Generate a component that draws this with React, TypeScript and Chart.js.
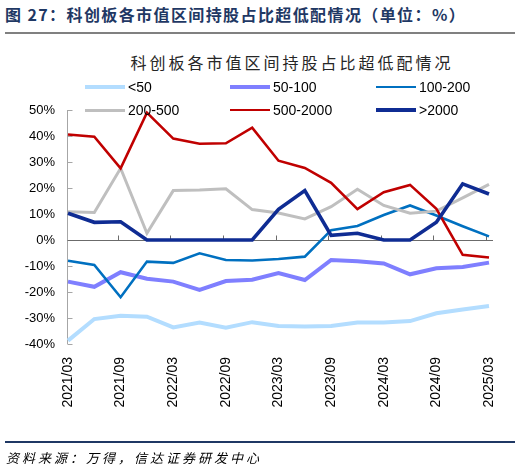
import React, { useEffect, useRef } from 'react';
import { Chart, registerables } from 'chart.js';

Chart.register(...registerables);

const categories = [
  '2021/03', '2021/06', '2021/09', '2021/12',
  '2022/03', '2022/06', '2022/09', '2022/12',
  '2023/03', '2023/06', '2023/09', '2023/12',
  '2024/03', '2024/06', '2024/09', '2024/12',
  '2025/03',
];
const tickLabels = ['2021/03', '2021/09', '2022/03', '2022/09', '2023/03', '2023/09', '2024/03', '2024/09', '2025/03'];
const yTicks = [-40, -30, -20, -10, 0, 10, 20, 30, 40, 50];

const seriesNames = ['<50', '50-100', '100-200', '200-500', '500-2000', '>2000'];
const lt50 = [-38.7, -30.4, -29.1, -29.5, -33.6, -31.7, -33.7, -31.6, -33.1, -33.3, -33.1, -31.7, -31.7, -31.2, -28.2, -26.7, -25.4];
const s50to100 = [-16.0, -18.0, -12.4, -14.9, -16.0, -19.2, -15.8, -15.3, -12.7, -15.4, -7.7, -8.2, -9.0, -13.2, -10.9, -10.4, -8.7];
const s100to200 = [-8.0, -9.6, -22.0, -8.3, -8.8, -5.1, -7.7, -7.9, -7.3, -6.4, 3.8, 5.4, 9.6, 13.3, 9.4, 5.3, 1.4];
const s200to500 = [10.9, 10.6, 27.6, 2.6, 19.0, 19.2, 19.7, 11.7, 10.4, 8.1, 12.8, 19.5, 13.3, 10.3, 11.1, 16.2, 21.4];
const s500to2000 = [40.6, 39.7, 27.6, 49.0, 39.0, 37.0, 37.2, 43.2, 30.5, 27.7, 22.0, 11.9, 18.4, 21.2, 12.0, -5.7, -6.7];
const gt2000 = [10.3, 6.8, 7.0, 0, 0, 0, 0, 0, 11.8, 19.0, 1.8, 2.6, 0, 0, 6.8, 21.6, 17.7];

const seriesValues = [lt50, s50to100, s100to200, s200to500, s500to2000, gt2000];
const seriesColors = ['#B3DDFF', '#7F7FFF', '#0070C0', '#BFBFBF', '#C00000', '#0F2C93'];
const seriesWidths = [4, 4, 2.6, 3, 2.6, 3.6];

const numFont = '"Liberation Sans", Arial, sans-serif';
const cjkFont = '"Noto Sans CJK SC", "Liberation Sans", sans-serif';

const legendPos = [
  { x: 85, y: 87 },
  { x: 230, y: 87 },
  { x: 376, y: 87 },
  { x: 85, y: 110 },
  { x: 230, y: 110 },
  { x: 376, y: 110 },
];

const axisPlugin = {
  id: 'axisLines',
  beforeDatasetsDraw(chart: any) {
    const { ctx, chartArea, scales } = chart;
    const xs = scales.x;
    const ys = scales.y;
    ctx.save();
    const x0 = Math.round(chartArea.left) - 0.5;
    ctx.lineWidth = 1;
    ctx.strokeStyle = '#A6A6A6';
    ctx.beginPath();
    ctx.moveTo(x0, ys.getPixelForValue(50));
    ctx.lineTo(x0, ys.getPixelForValue(-40));
    ctx.stroke();
    yTicks.forEach((v) => {
      const py = Math.round(ys.getPixelForValue(v)) + 0.5;
      ctx.beginPath();
      ctx.moveTo(x0, py);
      ctx.lineTo(x0 + 5, py);
      ctx.stroke();
    });
    const zy = Math.round(ys.getPixelForValue(0)) + 0.5;
    ctx.strokeStyle = '#6B6B6B';
    ctx.beginPath();
    ctx.moveTo(x0, zy);
    ctx.lineTo(chartArea.right + 4, zy);
    ctx.stroke();
    categories.forEach((c, i) => {
      if (i > 0 && tickLabels.includes(c)) {
        const px = Math.round(xs.getPixelForValue(i)) - 2.5;
        ctx.beginPath();
        ctx.moveTo(px, zy);
        ctx.lineTo(px, zy - 5);
        ctx.stroke();
      }
    });
    ctx.restore();
  },
};

export default function App() {
  const canvasRef = useRef<HTMLCanvasElement>(null);

  useEffect(() => {
    document.body.style.margin = '0';
    const canvas = canvasRef.current;
    if (!canvas) return;
    const chart = new Chart(canvas, {
      type: 'line',
      data: {
        labels: categories,
        datasets: seriesNames.map((name, i) => ({
          label: name,
          data: seriesValues[i],
          borderColor: seriesColors[i],
          backgroundColor: seriesColors[i],
          borderWidth: seriesWidths[i],
          pointRadius: 0,
          pointHoverRadius: 0,
          tension: 0,
          fill: false,
          order: 6 - i,
        })),
      },
      options: {
        animation: false,
        responsive: true,
        maintainAspectRatio: false,
        layout: { padding: { top: 110, right: 31, left: 0, bottom: 0 } },
        plugins: {
          legend: { display: false },
          title: { display: false },
          tooltip: { enabled: false },
        },
        scales: {
          x: {
            type: 'category',
            offset: false,
            grid: { display: false, drawTicks: false },
            border: { display: false },
            ticks: {
              autoSkip: false,
              maxRotation: 90,
              minRotation: 90,
              padding: 13,
              color: '#000000',
              font: { family: numFont, size: 14 },
              callback: (_v: any, i: number) => (tickLabels.includes(categories[i]) ? categories[i] : ''),
            },
            afterFit: (s: any) => {
              s.height = 128;
            },
          },
          y: {
            min: -40,
            max: 50,
            grid: { display: false, drawTicks: false },
            border: { display: false },
            ticks: {
              stepSize: 10,
              padding: 13,
              color: '#000000',
              font: { family: numFont, size: 13 },
              callback: (v: any) => `${v}%`,
            },
            afterFit: (s: any) => {
              s.width = 68;
            },
          },
        },
      },
      plugins: [axisPlugin],
    });
    return () => chart.destroy();
  }, []);

  return (
    <div
      style={{
        position: 'fixed',
        left: 0,
        top: 0,
        width: 520,
        height: 472,
        background: '#ffffff',
        overflow: 'hidden',
        fontFamily: cjkFont,
      }}
    >
      <div
        style={{
          position: 'absolute',
          left: 5,
          top: 4,
          fontSize: 16,
          lineHeight: '20px',
          fontWeight: 700,
          color: '#1F3864',
          whiteSpace: 'nowrap',
          letterSpacing: 1.4,
        }}
      >
        图 27：科创板各市值区间持股占比超低配情况（单位：%）
      </div>
      <div style={{ position: 'absolute', left: 5, top: 32, width: 510, height: 1.5, background: '#808080' }} />
      <div
        style={{
          position: 'absolute',
          left: 0,
          width: 584,
          top: 51,
          textAlign: 'center',
          fontSize: 16,
          lineHeight: '22px',
          letterSpacing: 3,
          color: '#262626',
          whiteSpace: 'nowrap',
        }}
      >
        科创板各市值区间持股占比超低配情况
      </div>
      <canvas ref={canvasRef} style={{ position: 'absolute', left: 0, top: 0, width: 520, height: 472 }} />
      {seriesNames.map((name, i) => (
        <div key={name} style={{ position: 'absolute', left: legendPos[i].x, top: legendPos[i].y - 9, height: 18, whiteSpace: 'nowrap' }}>
          <div
            style={{
              position: 'absolute',
              left: 0,
              top: 9 - seriesWidths[i] / 2,
              width: 40,
              height: seriesWidths[i],
              background: seriesColors[i],
            }}
          />
          <div
            style={{
              position: 'absolute',
              left: 43,
              top: 0,
              fontFamily: numFont,
              fontSize: 14,
              lineHeight: '18px',
              color: '#000000',
            }}
          >
            {name}
          </div>
        </div>
      ))}
      <div style={{ position: 'absolute', left: 5, top: 441, width: 510, height: 2, background: '#1F3864' }} />
      <div
        style={{
          position: 'absolute',
          left: 6,
          top: 449,
          fontSize: 13,
          lineHeight: '17px',
          fontStyle: 'italic',
          letterSpacing: 3,
          color: '#000000',
          whiteSpace: 'nowrap',
        }}
      >
        资料来源：万得，信达证券研发中心
      </div>
    </div>
  );
}
